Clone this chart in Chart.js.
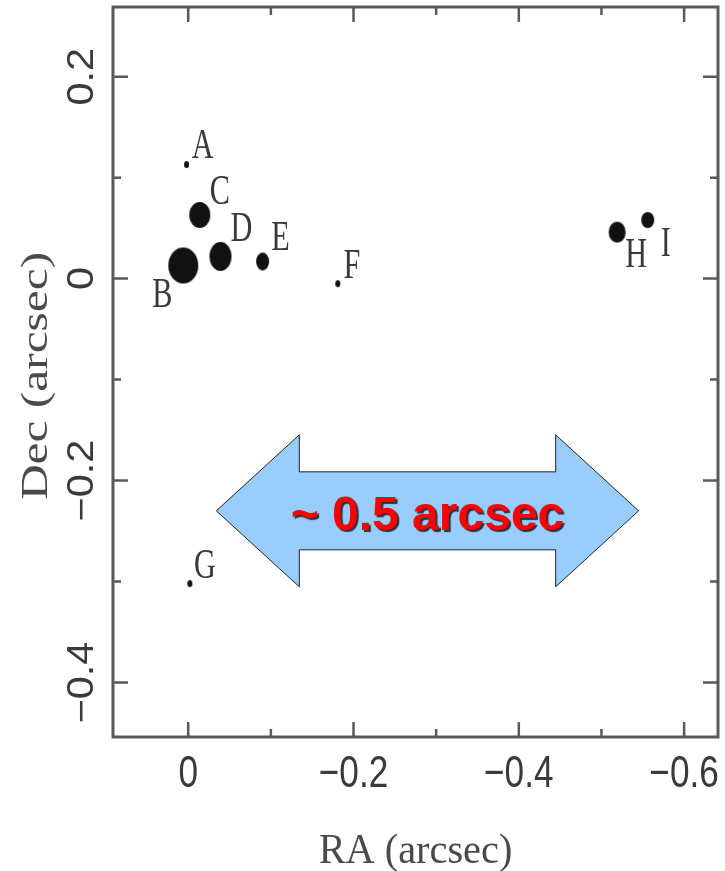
<!DOCTYPE html>
<html>
<head>
<meta charset="utf-8">
<script src="https://cdn.jsdelivr.net/npm/chart.js@4.4.1/dist/chart.umd.min.js"></script>
<style>
  html, body { margin: 0; padding: 0; background: #fff; }
  canvas { display: block; }
</style>
</head>
<body>
<canvas id="chart" width="725" height="871"></canvas>
<script>
// Component positions (arcsec)
const names = ['A', 'B', 'C', 'D', 'E', 'F', 'G', 'H', 'I'];
const ra  = [0.002, 0.006, -0.014, -0.039, -0.090, -0.181, -0.002, -0.519, -0.556];
const dec = [0.113, 0.013, 0.063, 0.022, 0.017, -0.005, -0.302, 0.046, 0.058];

const xMajor = [0, -0.2, -0.4, -0.6];
const xMinor = [-0.1, -0.3, -0.5];
const yMajor = [0.2, 0, -0.2, -0.4];
const yMinor = [0.1, -0.1, -0.3];
const xLabels = ['0', '\u22120.2', '\u22120.4', '\u22120.6'];
const yLabels = ['0.2', '0', '\u22120.2', '\u22120.4'];

// the scale arrow, in data units
const arrowFrom = -0.034, arrowTo = -0.545, arrowDec = -0.23;
const arrowText = '~ 0.5 arcsec';

// marker half sizes in px (the scan is stretched vertically -> ellipses)
const dotRx = [2.5, 15, 10.5, 11, 6.5, 2.5, 2.5, 8.5, 6.5];
const dotRy = [3.5, 18, 13, 14.5, 9, 3.5, 3.5, 10.5, 8];
// label centre offset from its marker, px
const labelDx = [16, -21, 20, 21, 18, 14, 15, 19, 18];
const labelDy = [-21, 28, -25, -29, -25, -20, -20, 21, 22];

function makeDot(rx, ry) {
  const c = document.createElement('canvas');
  c.width = Math.ceil(rx * 2) + 2;
  c.height = Math.ceil(ry * 2) + 2;
  const g = c.getContext('2d');
  g.fillStyle = '#111';
  g.beginPath();
  g.ellipse(c.width / 2, c.height / 2, rx, ry, 0, 0, Math.PI * 2);
  g.fill();
  return c;
}

function stretchedText(ctx, txt, x, y, font, sx, sy, rot) {
  ctx.save();
  ctx.translate(x, y);
  if (rot) ctx.rotate(rot);
  ctx.scale(sx, sy);
  ctx.font = font;
  ctx.textAlign = 'center';
  ctx.textBaseline = 'alphabetic';
  ctx.fillText(txt, 0, 0);
  ctx.restore();
}

const figurePlugin = {
  id: 'figure',
  beforeDraw(chart) {
    const ctx = chart.ctx;
    ctx.save();
    ctx.fillStyle = '#fff';
    ctx.fillRect(0, 0, chart.width, chart.height);
    ctx.restore();
  },
  afterDatasetsDraw(chart) {
    const ctx = chart.ctx;
    const { left, right, top, bottom } = chart.chartArea;
    const xs = chart.scales.x, ys = chart.scales.y;

    // frame + inward ticks on all four sides
    ctx.save();
    ctx.strokeStyle = '#5a5a5a';
    ctx.lineWidth = 3;
    ctx.strokeRect(left, top, right - left, bottom - top);
    ctx.lineWidth = 2.5;
    ctx.beginPath();
    const tickX = (vals, len) => vals.forEach(v => {
      const p = xs.getPixelForValue(v);
      ctx.moveTo(p, bottom); ctx.lineTo(p, bottom - len);
      ctx.moveTo(p, top); ctx.lineTo(p, top + len);
    });
    const tickY = (vals, len) => vals.forEach(v => {
      const p = ys.getPixelForValue(v);
      ctx.moveTo(left, p); ctx.lineTo(left + len, p);
      ctx.moveTo(right, p); ctx.lineTo(right - len, p);
    });
    tickX(xMajor, 15); tickX(xMinor, 8);
    tickY(yMajor, 15); tickY(yMinor, 8);
    ctx.stroke();
    ctx.restore();

    // tick labels
    ctx.save();
    ctx.fillStyle = '#3a3a3a';
    xMajor.forEach((v, i) => {
      stretchedText(ctx, xLabels[i], xs.getPixelForValue(v), 787, '44px "Liberation Sans"', 0.8, 1, 0);
    });
    yMajor.forEach((v, i) => {
      stretchedText(ctx, yLabels[i], 93, ys.getPixelForValue(v), '36px "Liberation Sans"', 1.15, 1, -Math.PI / 2);
    });
    // axis titles
    ctx.fillStyle = '#4a4a4a';
    stretchedText(ctx, 'RA (arcsec)', (left + right) / 2, 863, '42px "Liberation Serif"', 0.96, 1, 0);
    stretchedText(ctx, 'Dec (arcsec)', 47, (top + bottom) / 2 + 4, '38px "Liberation Serif"', 1.3, 1, -Math.PI / 2);
    ctx.restore();

    // component labels
    ctx.save();
    ctx.fillStyle = '#3a3a3a';
    chart.getDatasetMeta(0).data.forEach((pt, i) => {
      stretchedText(ctx, names[i], pt.x + labelDx[i], pt.y + labelDy[i] + 14, '42px "Liberation Serif"', 0.72, 1, 0);
    });
    ctx.restore();

    // double arrow with caption
    const xl = xs.getPixelForValue(arrowFrom), xr = xs.getPixelForValue(arrowTo);
    const yc = ys.getPixelForValue(arrowDec);
    const head = 83, hh = 76, sh = 39;
    ctx.save();
    ctx.beginPath();
    ctx.moveTo(xl, yc);
    ctx.lineTo(xl + head, yc - hh);
    ctx.lineTo(xl + head, yc - sh);
    ctx.lineTo(xr - head, yc - sh);
    ctx.lineTo(xr - head, yc - hh);
    ctx.lineTo(xr, yc);
    ctx.lineTo(xr - head, yc + hh);
    ctx.lineTo(xr - head, yc + sh);
    ctx.lineTo(xl + head, yc + sh);
    ctx.lineTo(xl + head, yc + hh);
    ctx.closePath();
    ctx.fillStyle = '#99ccff';
    ctx.fill();
    ctx.strokeStyle = '#222';
    ctx.lineWidth = 1;
    ctx.stroke();
    ctx.shadowColor = 'rgba(0,0,0,0.75)';
    ctx.shadowOffsetX = 2;
    ctx.shadowOffsetY = 2;
    ctx.shadowBlur = 1;
    ctx.fillStyle = '#ff0000';
    ctx.font = 'bold 48px "Liberation Sans"';
    ctx.textAlign = 'center';
    ctx.textBaseline = 'alphabetic';
    ctx.fillText(arrowText, (xl + xr) / 2, yc + 19);
    ctx.restore();
  }
};

new Chart(document.getElementById('chart'), {
  type: 'scatter',
  plugins: [figurePlugin],
  data: {
    datasets: [{
      data: ra.map((x, i) => ({ x, y: dec[i] })),
      pointStyle: dotRx.map((rx, i) => makeDot(rx, dotRy[i])),
      pointRadius: dotRx,
      backgroundColor: '#111',
      borderWidth: 0
    }]
  },
  options: {
    responsive: false,
    animation: false,
    events: [],
    layout: { autoPadding: false, padding: { top: 7, right: 7, left: 0, bottom: 0 } },
    plugins: { legend: { display: false }, tooltip: { enabled: false } },
    scales: {
      x: {
        type: 'linear', reverse: true, min: -0.641, max: 0.091,
        ticks: { display: false }, grid: { display: false }, border: { display: false },
        afterFit(s) { s.height = 134; }
      },
      y: {
        type: 'linear', min: -0.454, max: 0.269,
        ticks: { display: false }, grid: { display: false }, border: { display: false },
        afterFit(s) { s.width = 113; }
      }
    }
  }
});
</script>
</body>
</html>
